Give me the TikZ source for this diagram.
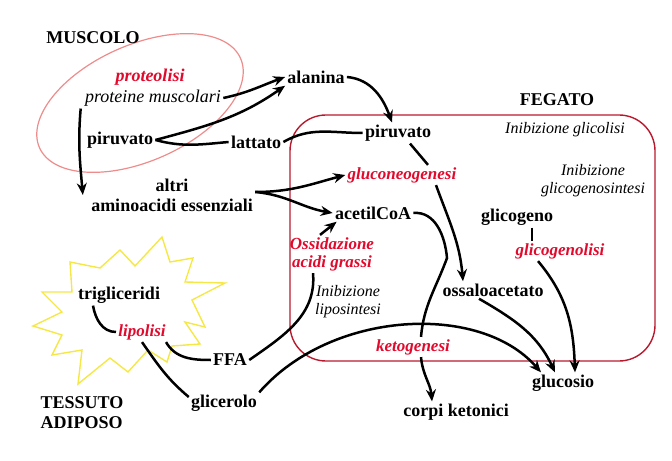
\documentclass[tikz,border=0pt]{standalone}
\usepackage{fontspec}
\setmainfont{Liberation Serif}
\usetikzlibrary{arrows.meta}
\definecolor{rosso}{RGB}{225,10,45}
\definecolor{bordo}{RGB}{185,25,45}
\definecolor{rosa}{RGB}{238,140,140}
\definecolor{giallo}{RGB}{245,232,70}
\begin{document}
\begin{tikzpicture}[x=0.5pt,y=0.5pt,
    met/.style={font=\fontsize{9}{10}\selectfont\bfseries, inner sep=1pt, align=center},
    proc/.style={font=\fontsize{8.5}{9}\selectfont\bfseries\itshape, text=rosso, inner sep=1pt, align=center},
    note/.style={font=\fontsize{8}{9}\selectfont\itshape, inner sep=1pt, align=center},
    organ/.style={font=\fontsize{9}{10}\selectfont\bfseries, inner sep=1pt, align=left},
    flow/.style={line width=1.25pt, -{Stealth[length=6pt,width=5pt,inset=2pt]}},
    link/.style={line width=1.25pt}
]
\useasboundingbox (0,0) rectangle (672,460);

% muscolo, fegato, tessuto adiposo
\draw[rosa, line width=0.6pt, rotate around={24:(140,357)}] (140,357) ellipse [x radius=55pt, y radius=29pt];
\draw[bordo, line width=0.7pt, rounded corners=18pt] (290,345) rectangle (655,99);
\draw[giallo, line width=0.7pt] (162,223) -- (170,198) -- (193,202) -- (185,178) -- (225,177)
    -- (192,160) -- (205,133) -- (185,138) -- (200,116) -- (172,114) -- (167,98)
    -- (148,110) -- (128,88) -- (110,102) -- (78,76) -- (82,110) -- (52,105)
    -- (62,125) -- (33,134) -- (62,148) -- (42,168) -- (72,168) -- (70,198)
    -- (100,192) -- (120,210) -- (135,194) -- cycle;

\node[organ] (muscolo) at (93,422) {MUSCOLO};
\node[organ] (fegato) at (557,360) {FEGATO};
\node[organ] (tessuto) at (82,47) {TESSUTO\\ADIPOSO};

\node[proc, font=\fontsize{9}{10}\selectfont\bfseries\itshape] (proteolisi) at (150,383) {proteolisi};
\node[note, font=\fontsize{9}{10}\selectfont\itshape] (prot) at (153,362) {proteine muscolari};
\node[met] (pirM) at (120,320) {piruvato};
\node[met] (alanina) at (316,383) {alanina};
\node[met] (lattato) at (256,318) {lattato};
\node[met] (altri) at (172,265) {altri\\aminoacidi essenziali};

\node[note] (inibGlic) at (565,330) {Inibizione glicolisi};
\node[met] (pirF) at (398,327) {piruvato};
\node[proc] (gluconeo) at (402,285) {gluconeogenesi};
\node[note] (inibGlicogeno) at (593,279) {Inibizione\\glicogenosintesi};
\node[met] (acetil) at (373,247) {acetilCoA};
\node[met] (glicogeno) at (517,243) {glicogeno};
\node[proc] (glicogenolisi) at (560,209) {glicogenolisi};
\node[proc] (ossidaz) at (332,206) {Ossidazione\\acidi grassi};
\node[note] (inibLipo) at (348,158) {Inibizione\\liposintesi};
\node[met] (ossalo) at (493,170) {ossaloacetato};
\node[proc] (keto) at (413,113) {ketogenesi};
\node[met] (glucosio) at (563,77) {glucosio};
\node[met] (corpi) at (456,48) {corpi ketonici};

\node[met] (trigli) at (119,165) {trigliceridi};
\node[proc] (lipolisi) at (142,128) {lipolisi};
\node[met] (ffa) at (230,100) {FFA};
\node[met] (glicerolo) at (224,57) {glicerolo};

% connettori
\coordinate (aa) at ([yshift=1.5pt]altri.east);
\coordinate (bend) at (447,202);
\draw[flow] (prot.east) to[out=12,in=200] (alanina.west);
\draw[flow] (pirM.east) to[out=15,in=215] (alanina.south west);
\draw[link] (pirM.east) to[out=-15,in=185] (lattato.west);
\draw[link] (lattato.east) to[out=30,in=180] (pirF.west);
\draw[flow] (alanina.east) to[out=-5,in=110] ([xshift=-3pt]pirF.north);
\draw[flow] ([xshift=-1pt]prot.south west) to[out=-95,in=95] ([xshift=-3pt]altri.west);
\draw[flow] (aa) to[out=0,in=195] (gluconeo.west);
\draw[flow] (aa) to[out=-5,in=170] (acetil.west);
\draw[flow] ([xshift=-6pt]ossidaz.north) -- ([xshift=2pt]acetil.south west);
\draw[link] (ffa.east) to[out=35,in=-85] ([xshift=-9.5pt]ossidaz.south);
\draw[link] ([xshift=6pt]pirF.south) -- ([xshift=13pt]gluconeo.north);
\draw[flow] ([xshift=17pt]gluconeo.south) to[out=-70,in=95] ([xshift=-15pt]ossalo.north);
\draw[link] (acetil.east) to[out=5,in=95] (bend) to[out=-110,in=85] ([xshift=4pt]keto.north);
\draw[flow] ([xshift=4pt]keto.south) to[out=-85,in=95] ([xshift=-12pt]corpi.north);
\draw[flow] ([xshift=-7pt]ossalo.south) to[out=-30,in=115] ([xshift=-4pt]glucosio.north);
\draw[link] ([xshift=7.5pt]glicogeno.south) -- ([xshift=-14pt]glicogenolisi.north);
\draw[flow] ([xshift=-11pt]glicogenolisi.south) to[out=-50,in=92] ([xshift=6pt]glucosio.north);
\draw[flow] (glicerolo.north east) .. controls +(49:109) and +(131:93) .. ([xshift=-11pt]glucosio.north);
\draw[link] ([xshift=-13pt]trigli.south) to[out=-80,in=180] (lipolisi.west);
\draw[link] ([xshift=-1pt]lipolisi.south east) to[out=-60,in=180] (ffa.west);
\draw[link] (lipolisi.south) to[out=-55,in=140] ([yshift=3pt]glicerolo.west);
\end{tikzpicture}
\end{document}
